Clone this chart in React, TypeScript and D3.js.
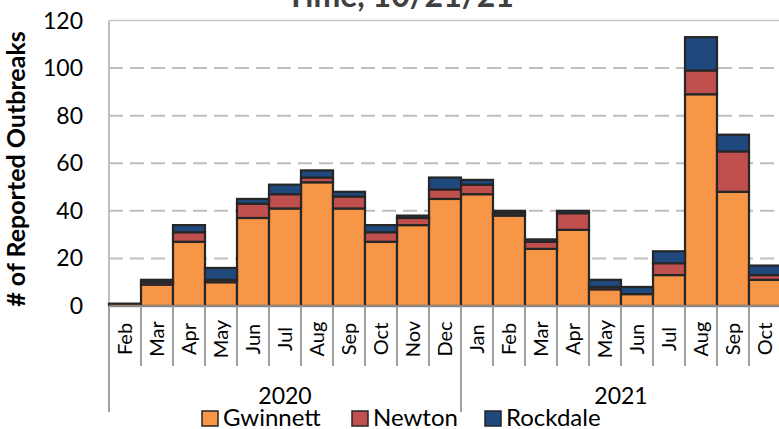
import React from 'react'
import * as d3 from 'd3'

// months on the x axis, grouped by year
const months2020 = ['Feb', 'Mar', 'Apr', 'May', 'Jun', 'Jul', 'Aug', 'Sep', 'Oct', 'Nov', 'Dec']
const months2021 = ['Jan', 'Feb', 'Mar', 'Apr', 'May', 'Jun', 'Jul', 'Aug', 'Sep', 'Oct']
const years = ['2020', '2021']

// outbreaks per county, one value per month
const gwinnett = [1, 9, 27, 10, 37, 41, 52, 41, 27, 34, 45, 47, 38, 24, 32, 7, 5, 13, 89, 48, 11]
const newton = [0, 1, 4, 1, 6, 6, 2, 5, 4, 3, 4, 4, 1, 3, 7, 1, 0, 5, 10, 17, 2]
const rockdale = [0, 1, 3, 5, 2, 4, 3, 2, 3, 1, 5, 2, 1, 1, 1, 3, 3, 5, 14, 7, 4]

const counties = ['Gwinnett', 'Newton', 'Rockdale']
const colors = ['#F79646', '#C0504D', '#1F497D']
const yTicks = [0, 20, 40, 60, 80, 100, 120]

const W = 779
const H = 429
const left = 109
const right = 781
const top = 20.5
const bottom = 306
const font = 'Lato, "Open Sans", sans-serif'

export default function App() {
  const keys = [
    ...months2020.map(m => '2020-' + m),
    ...months2021.map(m => '2021-' + m),
  ]
  const monthOf = (k: string) => k.split('-')[1]

  const rows = keys.map((k, i) => ({
    key: k,
    Gwinnett: gwinnett[i],
    Newton: newton[i],
    Rockdale: rockdale[i],
  }))
  const series = d3.stack<any>().keys(counties)(rows)

  const x = d3.scaleBand().domain(keys).range([left, right]).padding(0)
  const y = d3.scaleLinear().domain([0, 120]).range([bottom, top])
  const bw = x.bandwidth()

  const groups = [
    { year: years[0], keys: keys.slice(0, months2020.length) },
    { year: years[1], keys: keys.slice(months2020.length) },
  ]

  const legendX = [202, 352, 485]

  return (
    <svg width={W} height={H} style={{ position: 'absolute', left: 0, top: 0 }}
      fontFamily={font}>
      <rect width={W} height={H} fill="#fff" />

      <text x={400} y={7} textAnchor="middle" fontSize={32} fontWeight="bold" fill="#404040">
        Time, 10/21/21
      </text>

      {/* gridlines */}
      {yTicks.filter(t => t > 0 && t < 120).map(t => (
        <line key={t} x1={left} x2={right} y1={y(t)} y2={y(t)}
          stroke="#bfbfbf" strokeWidth={2} strokeDasharray="14,7" />
      ))}
      <line x1={left} x2={right} y1={y(120)} y2={y(120)} stroke="#c8c8c8" strokeWidth={1.5} />
      <line x1={left} x2={left} y1={y(120)} y2={bottom} stroke="#bfbfbf" strokeWidth={2} />

      {/* bars */}
      {series.map((s, si) => (
        <g key={s.key} fill={colors[si]} stroke="#262626" strokeWidth={2.2}>
          {s.filter(d => d[1] - d[0] > 0).map(d => (
            <rect key={d.data.key} x={x(d.data.key)} y={y(d[1])}
              width={bw} height={y(d[0]) - y(d[1])} />
          ))}
        </g>
      ))}

      {/* y axis labels */}
      {yTicks.map(t => (
        <text key={t} x={83} y={y(t)} dy="0.35em" textAnchor="end" fontSize={23} fill="#000">
          {t}
        </text>
      ))}
      <text transform={`translate(${25},${169}) rotate(-90)`} textAnchor="middle"
        fontSize={25} fontWeight="bold" fill="#000">
        # of Reported Outbreaks
      </text>

      {/* x axis */}
      <line x1={left} x2={right} y1={bottom} y2={bottom} stroke="#858585" strokeWidth={2} />
      {keys.map((k, i) => i > 0 && (
        <line key={'t' + k} x1={x(k)} x2={x(k)} y1={bottom} y2={366} stroke="#a0a0a0" strokeWidth={2} />
      ))}
      {keys.map(k => (
        <text key={'m' + k} transform={`translate(${(x(k) as number) + bw / 2 + 7},${339}) rotate(-90)`}
          textAnchor="middle" fontSize={20} fill="#000">
          {monthOf(k)}
        </text>
      ))}
      {groups.map(g => {
        const x0 = x(g.keys[0]) as number
        const x1 = (x(g.keys[g.keys.length - 1]) as number) + bw
        return (
          <g key={g.year}>
            <line x1={x0} x2={x0} y1={bottom} y2={412} stroke="#a0a0a0" strokeWidth={2} />
            <text x={(x0 + x1) / 2} y={404} textAnchor="middle" fontSize={23} fill="#000">
              {g.year}
            </text>
          </g>
        )
      })}

      {/* legend */}
      {counties.map((c, i) => (
        <g key={c}>
          <rect x={legendX[i]} y={411} width={16} height={15} fill={colors[i]}
            stroke="#262626" strokeWidth={1.5} />
          <text x={legendX[i] + 21} y={426} fontSize={24} fill="#000">{c}</text>
        </g>
      ))}
    </svg>
  )
}
